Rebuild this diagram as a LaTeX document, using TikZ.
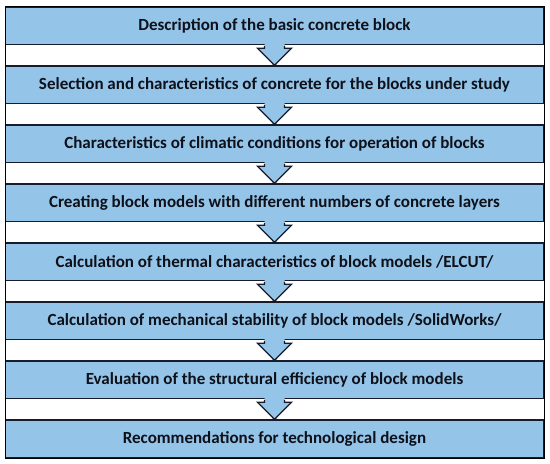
\documentclass[tikz,border=0pt]{standalone}
\usepackage{fontspec}
\setmainfont{Carlito}
\usepackage{tikz}
\usetikzlibrary{positioning}
\usetikzlibrary{calc}
\usepackage{xcolor}

\definecolor{stageblue}{RGB}{148,197,233}
\definecolor{stageline}{RGB}{22,28,44}
\definecolor{stagetext}{RGB}{14,16,26}

\tikzset{
  stage/.style={draw=stageline, line width=1.3pt, fill=stageblue,
    minimum width=538pt, minimum height=37.5pt, inner sep=0pt,
    text=stagetext, font=\fontsize{17}{19}\selectfont\bfseries},
  flowfill/.style={fill=stageblue},
  flowline/.style={draw=stageline, line width=1.3pt, line join=miter}
}

\begin{document}
\begin{tikzpicture}
\useasboundingbox (0,0) rectangle (550pt,-464pt);

\node[stage] (s1) at (274.5pt,-25.75pt) {Description of the basic concrete block};
\node[stage, below=20.2pt of s1] (s2) {Selection and characteristics of concrete for the blocks under study};
\node[stage, below=20.2pt of s2] (s3) {Characteristics of climatic conditions for operation of blocks};
\node[stage, below=20.2pt of s3] (s4) {Creating block models with different numbers of concrete layers};
\node[stage, below=20.2pt of s4] (s5) {Calculation of thermal characteristics of block models /ELCUT/};
\node[stage, below=20.2pt of s5] (s6) {Calculation of mechanical stability of block models /SolidWorks/};
\node[stage, below=20.2pt of s6] (s7) {Evaluation of the structural efficiency of block models};
\node[stage, below=20.2pt of s7] (s8) {Recommendations for technological design};

%outer frame
\draw[black, line width=0.6pt] (s1.north west) rectangle (s8.south east);

%block arrows
\foreach \a/\b in {s1/s2,s2/s3,s3/s4,s4/s5,s5/s6,s6/s7,s7/s8}
{
  \fill[flowfill] ($(\a.south)+(-10pt,1.5pt)$) -- ($(\a.south)+(-10pt,-3pt)$)
    -- ($(\a.south)+(-17pt,-3pt)$) -- (\b.north) -- ($(\a.south)+(17pt,-3pt)$)
    -- ($(\a.south)+(10pt,-3pt)$) -- ($(\a.south)+(10pt,1.5pt)$) -- cycle;
  \draw[flowline] ($(\a.south)+(-10pt,-0.65pt)$) -- ($(\a.south)+(-10pt,-3pt)$)
    -- ($(\a.south)+(-17pt,-3pt)$) -- (\b.north) -- ($(\a.south)+(17pt,-3pt)$)
    -- ($(\a.south)+(10pt,-3pt)$) -- ($(\a.south)+(10pt,-0.65pt)$);
}

\end{tikzpicture}
\end{document}
